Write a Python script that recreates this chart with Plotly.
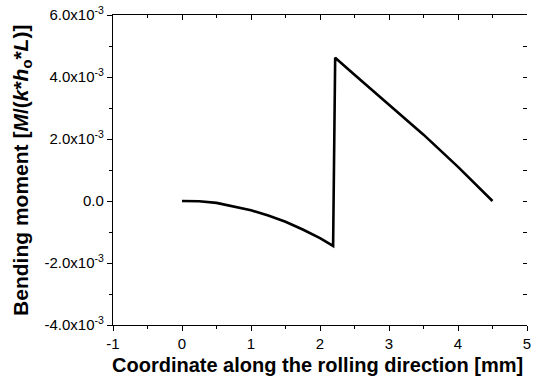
import plotly.graph_objects as go

# Data
x_mm = [0, 0.25, 0.5, 0.75, 1.0, 1.25, 1.5, 1.75, 2.0, 2.19, 2.22, 2.5, 3.0, 3.5, 4.0, 4.5]
moment_e3 = [0, -0.01, -0.06, -0.17, -0.3, -0.47, -0.67, -0.92, -1.2, -1.45,
             4.62, 4.07, 3.12, 2.14, 1.1, 0.0]
moment = [v * 1e-3 for v in moment_e3]

x_ticks = [-1, 0, 1, 2, 3, 4, 5]
y_ticks = [-4e-3, -2e-3, 0, 2e-3, 4e-3, 6e-3]
y_ticktext = ["-4.0x10<sup>-3</sup>", "-2.0x10<sup>-3</sup>", "0.0",
              "2.0x10<sup>-3</sup>", "4.0x10<sup>-3</sup>", "6.0x10<sup>-3</sup>"]

x_title = "<b>Coordinate along the rolling direction [mm]</b>"
y_title = "<b>Bending moment [<i>M</i>/(<i>k</i>*<i>h</i><sub>o</sub>*<i>L</i>)]</b>"

FONT = "Liberation Sans, Arial, sans-serif"

fig = go.Figure()
fig.add_trace(go.Scatter(x=x_mm, y=moment, mode="lines",
                         line=dict(color="black", width=2.6),
                         showlegend=False, hoverinfo="skip"))
# invisible trace to anchor top/right mirror axes
fig.add_trace(go.Scatter(x=x_mm, y=moment, mode="lines", xaxis="x2", yaxis="y2",
                         line=dict(color="rgba(0,0,0,0)", width=0),
                         showlegend=False, hoverinfo="skip"))

fig.update_layout(
    width=535, height=383,
    margin=dict(l=113, r=8, t=15, b=58, autoexpand=False),
    plot_bgcolor="white", paper_bgcolor="white",
    font=dict(family=FONT, color="black", size=15),
    xaxis=dict(
        range=[-1, 5], tickvals=x_ticks, ticktext=[str(v) for v in x_ticks],
        automargin=False,
        showgrid=False, zeroline=False, showline=True, linecolor="black", linewidth=1.2,
        ticks="outside", ticklen=5, tickwidth=1.2, tickcolor="black",
        minor=dict(dtick=0.5, tick0=0, ticks="outside", ticklen=3, tickcolor="black", showgrid=False),
        tickfont=dict(size=15),
    ),
    yaxis=dict(
        range=[-4e-3, 6e-3], tickvals=y_ticks, ticktext=y_ticktext,
        automargin=False,
        showgrid=False, zeroline=False, showline=True, linecolor="black", linewidth=1.2,
        ticks="outside", ticklen=5, tickwidth=1.2, tickcolor="black",
        minor=dict(dtick=1e-3, tick0=0, ticks="outside", ticklen=3, tickcolor="black", showgrid=False),
        tickfont=dict(size=15),
    ),
    xaxis2=dict(
        overlaying="x", side="top", range=[-1, 5], dtick=1, tick0=0, automargin=False,
        showticklabels=False, showgrid=False, zeroline=False,
        showline=True, linecolor="black", linewidth=1.2,
        ticks="inside", ticklen=5, tickwidth=1.2, tickcolor="black",
        minor=dict(dtick=0.5, tick0=0, ticks="inside", ticklen=3, tickcolor="black", showgrid=False),
    ),
    yaxis2=dict(
        overlaying="y", side="right", range=[-4e-3, 6e-3], dtick=1e-3, tick0=0, automargin=False,
        showticklabels=False, showgrid=False, zeroline=False, showline=False,
        ticks="inside", ticklen=4, tickwidth=1.2, tickcolor="black",
    ),
    annotations=[
        dict(text=x_title, xref="paper", yref="paper", x=0.495, y=-0.129,
             xanchor="center", yanchor="middle", showarrow=False, font=dict(size=20)),
        dict(text=y_title, xref="paper", yref="paper", x=-0.22, y=0.5, textangle=-90,
             xanchor="center", yanchor="middle", showarrow=False, font=dict(size=21)),
    ],
)

fig.write_html("out.html", config={"displayModeBar": False},
               post_script="document.body.style.margin='0';document.body.style.padding='0';")
